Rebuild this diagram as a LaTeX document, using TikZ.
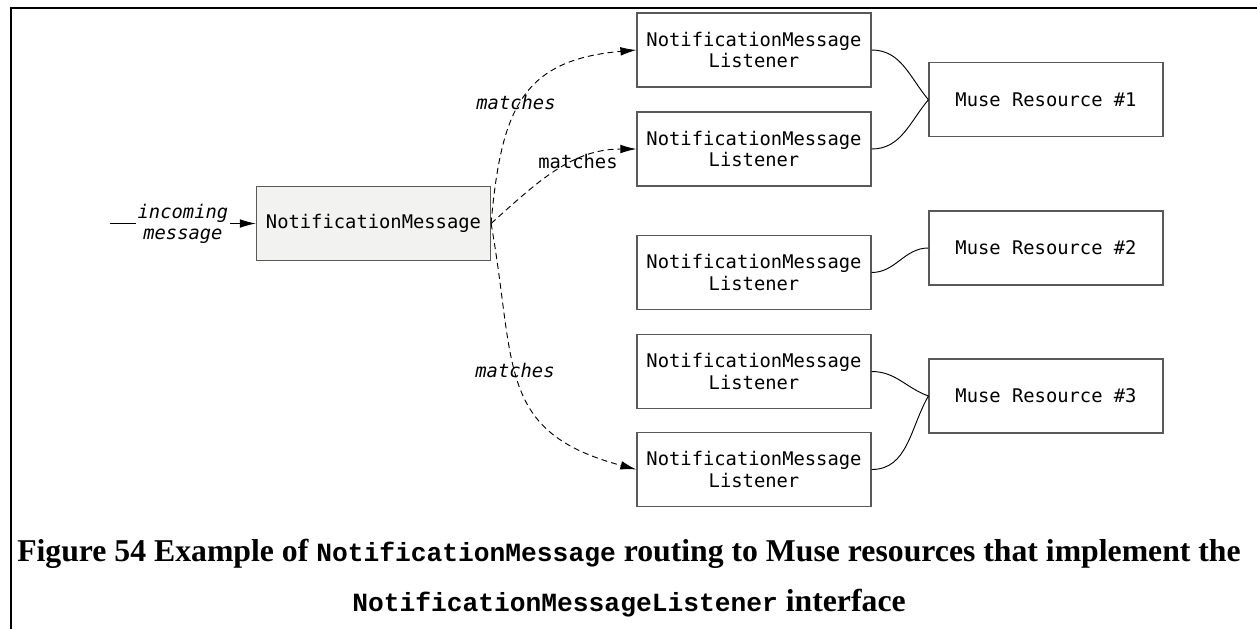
\documentclass[tikz,border=0pt]{standalone}
\usepackage{fontspec}
\setmainfont{Liberation Serif}
\setmonofont{DejaVu Sans Mono}[ItalicFont={DejaVu Sans Mono Oblique}, BoldFont={DejaVu Sans Mono Bold}]
\newfontfamily\capmono{Liberation Mono}
\usepackage{tikz}
\usetikzlibrary{arrows.meta}
\definecolor{edgegrey}{HTML}{595959}
\definecolor{msgfill}{HTML}{F2F2F0}
\tikzset{
  nm box/.style={draw=edgegrey, line width=0.9pt, fill=white, minimum width=175.5pt, minimum height=55.5pt,
                 inner sep=0pt, align=center, font=\fontsize{14.1pt}{15.8pt}\selectfont\ttfamily},
  nm msg/.style={nm box, fill=msgfill},
  nm arr/.style={-{Latex[length=12pt,width=6.5pt]}, line width=0.7pt},
  nm match/.style={nm arr, dash pattern=on 4.5pt off 3pt},
  nm link/.style={line width=0.7pt},
  nm lbl/.style={font=\fontsize{14.1pt}{15.8pt}\selectfont\ttfamily\itshape, inner sep=1pt, align=center},
  nm cap/.style={font=\fontsize{23.8pt}{26pt}\selectfont\bfseries, inner sep=0pt, anchor=base},
  nm capmono/.style={font=\fontsize{19.7pt}{26pt}\selectfont\capmono},
}
\newcommand{\capcode}[1]{{\fontsize{19.7pt}{26pt}\selectfont\capmono #1}}

\begin{document}
\begin{tikzpicture}[x=0.75pt, y=0.75pt]
  \useasboundingbox (0,-629) rectangle (1257,0);
  % frame (top and left only)
  \draw[line width=1.5pt] (1257,-8) -- (11,-8) -- (11,-629);
  % incoming message
  \node[nm msg] (nm) at (373.5,-223.5) {NotificationMessage};
  \coordinate (in0) at (110,-223.5);
  \draw[nm arr] (in0) -- node[nm lbl, fill=white] (inlbl) {incoming\\message} (nm.west);
  % listeners and resources
  \foreach \n/\y in {l1/50, l2/149, l3/272.5, l4/371.5, l5/469.5}
     \node[nm box] (\n) at (754,-\y) {NotificationMessage\\Listener};
  \foreach \n/\y/\t in {r1/99.7/1, r2/248/2, r3/396/3}
     \node[nm box] (\n) at (1046,-\y) {Muse Resource \#\t};
  % routing
  \draw[nm match] (nm.east) to[out=85, in=185, looseness=1.3] (l1.west);
  \draw[nm match] (nm.east) to[out=42, in=180] (l2.west);
  \draw[nm match] (nm.east) to[out=-80, in=165, looseness=1.3] (l5.west);
  \node[nm lbl] (m1) at (516,-102) {matches};
  \node[nm lbl, font=\fontsize{14.1pt}{15.8pt}\selectfont\ttfamily] (m2) at (578,-161) {matches};
  \node[nm lbl] (m3) at (515,-370) {matches};
  \foreach \a/\b/\i in {l1/r1/130, l2/r1/230, l3/r2/180, l4/r3/160, l5/r3/240}
     \draw[nm link] (\a.east) to[out=0, in=\i] (\b.west);
  % caption
  \node[nm cap] (cap1) at (629,-561) {Figure 54 Example of \capcode{NotificationMessage} routing to Muse resources that implement the};
  \node[nm cap] (cap2) at (629,-611) {\capcode{NotificationMessageListener} interface};
\end{tikzpicture}
\end{document}
